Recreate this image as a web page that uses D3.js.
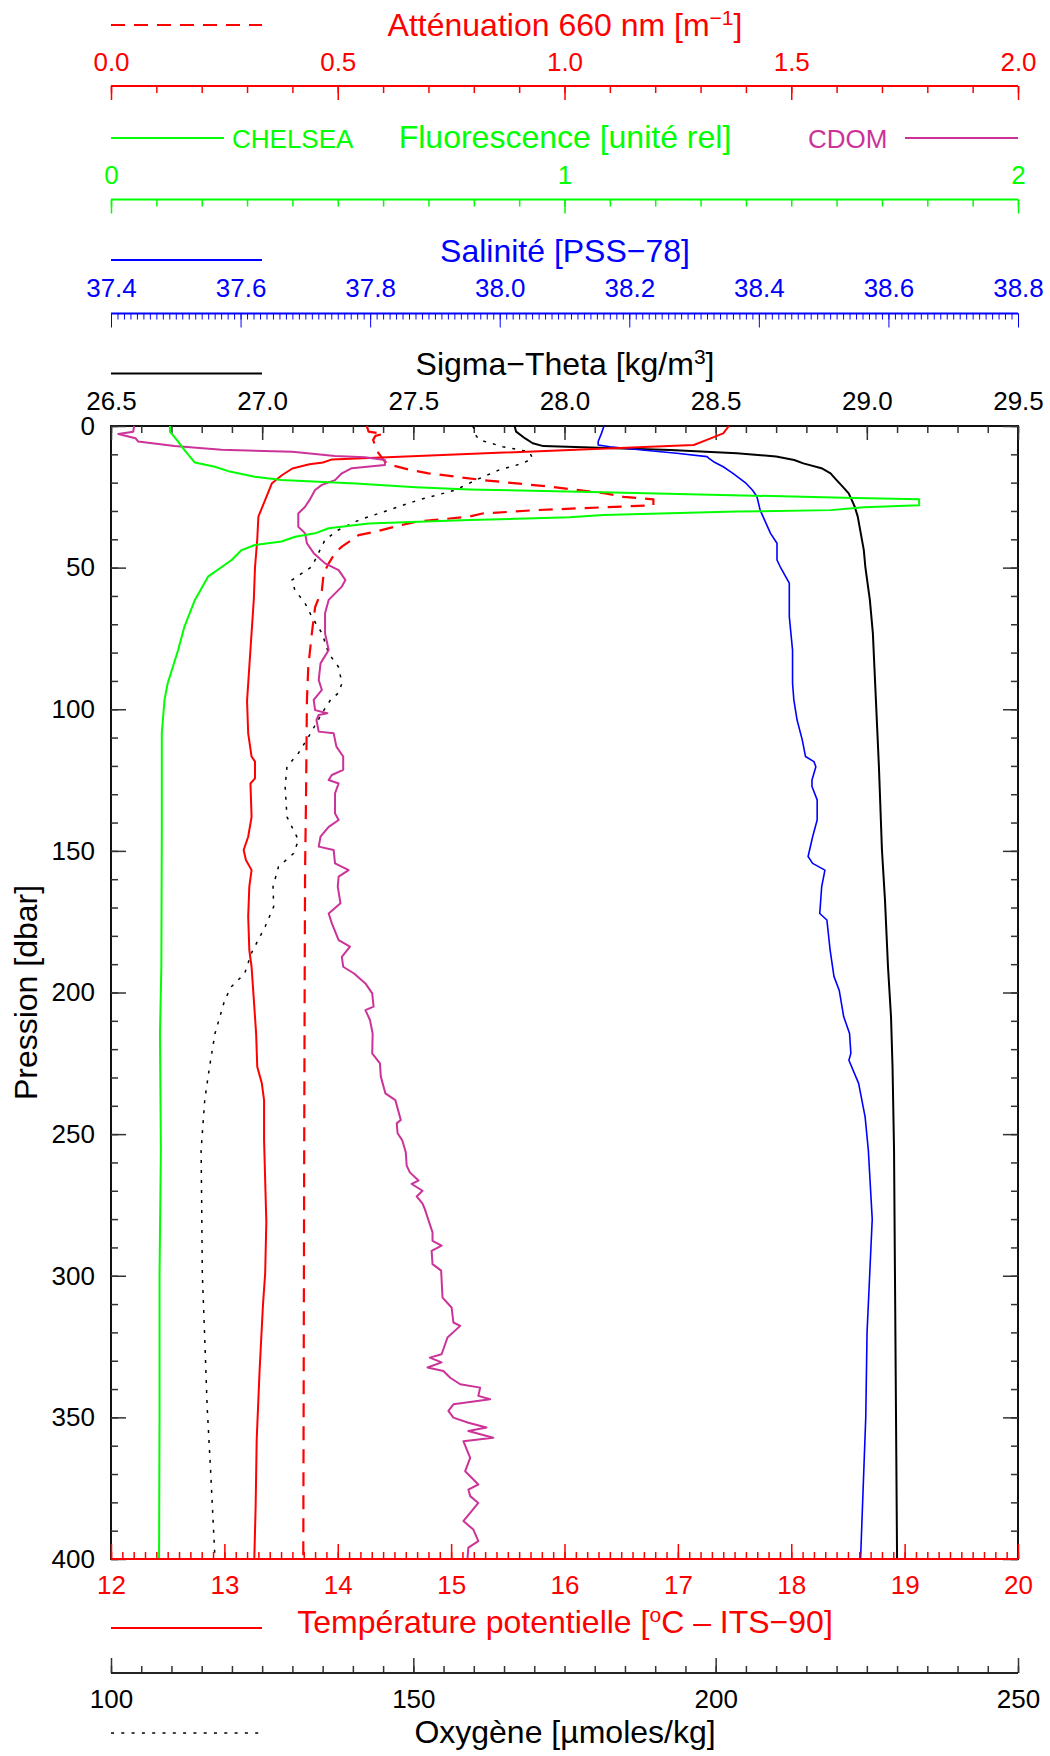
<!DOCTYPE html>
<html>
<head>
<meta charset="utf-8">
<script src="https://cdn.jsdelivr.net/npm/d3@7"></script>
<style>
  body { margin: 0; background: #fff; }
  svg text { font-family: "Liberation Sans", Arial, sans-serif; }
</style>
</head>
<body>
<svg id="chart" width="1050" height="1756"></svg>
<script>
// ─────────────────────────────────────────────────────────────
// 1. profile data  [pressure dbar, value]
// ─────────────────────────────────────────────────────────────
const temperature = [
  [0, 17.45], [2.6, 17.40], [5.0, 17.25], [6.7, 17.14], [11.8, 13.95], [12.9, 13.87],
  [13.5, 13.75], [15.0, 13.60], [17.3, 13.51], [20.2, 13.42], [26.1, 13.36], [32, 13.30],
  [40, 13.29], [50, 13.27], [61, 13.26], [73, 13.24], [85, 13.22], [97, 13.20],
  [108.5, 13.21], [116.7, 13.24], [118.5, 13.27], [124.4, 13.27], [126.2, 13.23], [138, 13.24],
  [145, 13.21], [149.7, 13.17], [153.2, 13.19], [156.8, 13.24], [162.6, 13.22], [173.2, 13.21],
  [185, 13.22], [191, 13.24], [202.7, 13.26], [214.5, 13.28], [226.2, 13.29], [232, 13.33],
  [238, 13.35], [252, 13.35], [281, 13.37], [299, 13.36], [310.6, 13.34], [334, 13.31],
  [358, 13.285], [381, 13.276], [400, 13.264]
];

const attenuation = [
  [0, 0.564], [2.0, 0.568], [2.8, 0.60], [3.5, 0.583], [4.9, 0.578], [8.7, 0.586],
  [11.8, 0.60], [13.5, 0.61], [15.3, 0.655], [16.7, 0.70], [19.1, 0.82], [21.4, 0.967],
  [23.8, 1.09], [25.0, 1.13], [25.9, 1.196], [28.0, 1.196], [28.7, 1.085], [29.7, 0.937],
  [30.9, 0.819], [32, 0.79], [33.8, 0.672], [35.5, 0.627], [37.3, 0.583], [38.5, 0.546],
  [40.2, 0.531], [42.6, 0.509], [44.9, 0.494], [48.5, 0.48], [52, 0.469], [58, 0.465],
  [64, 0.45], [73, 0.443], [85, 0.435], [97, 0.432], [132, 0.43], [156, 0.428],
  [200, 0.427], [256, 0.426], [400, 0.424]
];

const fluorescence = [
  [0, 0.13], [2.0, 0.13], [4.9, 0.145], [8.5, 0.162], [11.4, 0.177], [12.9, 0.185],
  [14.4, 0.229], [16.1, 0.262], [17.9, 0.317], [19.1, 0.376], [20.3, 0.539], [21.6, 0.672],
  [22.4, 0.79], [23.4, 1.085], [25.3, 1.616], [25.9, 1.782], [28.0, 1.782], [28.7, 1.66],
  [29.7, 1.587], [30.2, 1.38], [31.4, 1.085], [32.2, 1.011], [33.2, 0.79], [34.4, 0.568],
  [36.1, 0.48], [37.9, 0.45], [39.1, 0.406], [40.8, 0.376], [42.0, 0.317], [43.8, 0.288],
  [47.3, 0.266], [53.2, 0.214], [61.4, 0.185], [70.8, 0.162], [79.1, 0.148], [90.8, 0.125],
  [96.7, 0.118], [108.5, 0.112], [143.8, 0.112], [190.9, 0.111], [214.5, 0.108], [255.7, 0.11],
  [300, 0.107], [350, 0.107], [400, 0.106]
];

const cdom = [
  [0, 0.051], [2.0, 0.049], [2.8, 0.016], [4.3, 0.054], [5.5, 0.06], [7.1, 0.14],
  [8.4, 0.244], [9.1, 0.40], [10.6, 0.494], [11.0, 0.56], [12, 0.604], [13.8, 0.604],
  [14.9, 0.531], [16.7, 0.509], [19.1, 0.494], [20.8, 0.465], [22.6, 0.45], [26.1, 0.438],
  [28.5, 0.428], [30.9, 0.413], [35.6, 0.413], [37.9, 0.428], [41.4, 0.432], [44.9, 0.447],
  [48.5, 0.472], [50.9, 0.502], [54.4, 0.517], [56.7, 0.509], [61.4, 0.48], [66.1, 0.472],
  [73.2, 0.472], [79.1, 0.48], [83.8, 0.462], [89.7, 0.458], [93.2, 0.465], [96.7, 0.447],
  [100.3, 0.45], [101.4, 0.477], [102, 0.458], [103.8, 0.453], [107.9, 0.458], [108.5, 0.491],
  [113.2, 0.497], [116.7, 0.512], [121.4, 0.512], [123.2, 0.487], [125, 0.48], [126.2, 0.502],
  [129.7, 0.494], [136.8, 0.494], [139.1, 0.502], [141.5, 0.48], [145, 0.462], [148.5, 0.458],
  [149.7, 0.491], [154.4, 0.494], [156.8, 0.524], [159.1, 0.502], [162.6, 0.5], [168.5, 0.506],
  [172.1, 0.48], [175.6, 0.487], [181.5, 0.502], [183.8, 0.527], [187.4, 0.509], [190.9, 0.512],
  [193.3, 0.536], [196.8, 0.561], [200.3, 0.576], [205, 0.579], [206.2, 0.561], [209.7, 0.571],
  [214.5, 0.577], [221.5, 0.576], [225, 0.593], [229.7, 0.595], [235.6, 0.605], [238, 0.627],
  [245, 0.639], [246.2, 0.63], [249.7, 0.632], [252.1, 0.642], [256.4, 0.650], [261.1, 0.652],
  [263.5, 0.659], [266.4, 0.678], [267.6, 0.663], [270, 0.687], [272, 0.674], [274.5, 0.687],
  [276.5, 0.692], [279.4, 0.698], [284.7, 0.709], [287.7, 0.709], [289.4, 0.729], [291.2, 0.707],
  [295.9, 0.709], [298.2, 0.728], [307.7, 0.731], [311.2, 0.751], [316.5, 0.755], [317.7, 0.770],
  [321.8, 0.742], [327.7, 0.729], [328.9, 0.703], [330.6, 0.729], [332.4, 0.698], [333.6, 0.733],
  [336, 0.748], [338.3, 0.770], [339.5, 0.814], [342.4, 0.81], [343.6, 0.836], [345.4, 0.755],
  [347.7, 0.744], [350.1, 0.755], [351.9, 0.788], [353.6, 0.828], [354.8, 0.788], [357.2, 0.843],
  [358.4, 0.777], [364.3, 0.792], [369, 0.781], [373.7, 0.810], [375.5, 0.788], [377.8, 0.792],
  [380.2, 0.810], [383.7, 0.792], [386.6, 0.777], [389.6, 0.799], [393.7, 0.81], [396, 0.788],
  [400, 0.786]
];

const salinity = [
  [0, 38.161], [2.6, 38.157], [5.5, 38.152], [6.7, 38.152], [7.3, 38.17], [8.5, 38.22],
  [9.6, 38.273], [10.8, 38.32], [11.4, 38.323], [12.6, 38.33], [14.4, 38.345], [16.7, 38.36],
  [20.2, 38.38], [22.6, 38.39], [24.9, 38.397], [29.7, 38.402], [37.9, 38.418], [41.4, 38.428],
  [47.3, 38.428], [49.7, 38.433], [55.5, 38.447], [67.3, 38.447], [79.1, 38.452], [90.8, 38.452],
  [96.7, 38.454], [103.8, 38.459], [110.8, 38.467], [116.7, 38.472], [118.5, 38.485], [120.3, 38.488],
  [125, 38.482], [127.3, 38.482], [132, 38.49], [139.1, 38.49], [145, 38.483], [152, 38.476],
  [154.4, 38.483], [156.8, 38.502], [162.6, 38.497], [172.1, 38.494], [174.4, 38.505], [185, 38.51],
  [194.4, 38.516], [199.2, 38.524], [208.6, 38.531], [214.5, 38.54], [221.5, 38.542], [223.9, 38.539],
  [232.1, 38.554], [243.9, 38.564], [255.7, 38.569], [280, 38.575], [300, 38.571], [320, 38.567],
  [350, 38.565], [400, 38.557]
];

const sigmaTheta = [
  [0, 27.835], [2.0, 27.84], [4.4, 27.87], [6.1, 27.895], [7.1, 27.93], [8.5, 28.35],
  [9.6, 28.57], [10.8, 28.70], [12.0, 28.76], [13.2, 28.79], [14.9, 28.85], [16.7, 28.88],
  [19.1, 28.90], [21.4, 28.92], [23.8, 28.94], [26.1, 28.95], [28.5, 28.96], [32, 28.97],
  [37.9, 28.98], [43.8, 28.99], [49.7, 28.995], [61.4, 29.01], [73.2, 29.02], [85, 29.025],
  [96.7, 29.03], [120.3, 29.04], [149.7, 29.05], [167.3, 29.06], [190.9, 29.07], [208.6, 29.08],
  [226.2, 29.085], [255.7, 29.09], [400, 29.10]
];

const oxygen = [
  [0, 159.8], [2.0, 160.3], [3.2, 160.3], [4.9, 160.9], [7.3, 164.8], [9.1, 169.2],
  [11.4, 169.7], [13.2, 168.1], [15.5, 164.2], [19.1, 160.3], [22.6, 157], [26.1, 150.9],
  [29.7, 145.9], [33.2, 141], [36.7, 137.6], [40.2, 135.4], [44.9, 134.3], [49.7, 133.2],
  [54.4, 129.9], [57.9, 130.4], [62.6, 132.1], [67.3, 133.2], [73.2, 134.9], [80.3, 136],
  [85, 137.6], [90.8, 138.2], [94.3, 137.6], [96.7, 136.3], [101.4, 134.9], [109.6, 132.7],
  [115.5, 131], [120.3, 129.1], [127.3, 128.8], [138, 129.1], [146.2, 131], [150.9, 130.2],
  [155.6, 127.7], [162.6, 126.8], [169.7, 126.9], [176.7, 125.5], [186.2, 123.2], [193.3, 122.1],
  [198, 119.9], [202.7, 118.8], [214.5, 117.2], [226.2, 116.3], [238, 115.5], [255.7, 114.9],
  [275, 115.0], [299, 115.1], [322, 115.5], [346, 115.9], [370, 116.5], [400, 117.2]
];

// ─────────────────────────────────────────────────────────────
// 2. tick labels
// ─────────────────────────────────────────────────────────────
const attTicks   = [0, 0.5, 1.0, 1.5, 2.0];
const fluoTicks  = [0, 1, 2];
const salTicks   = [37.4, 37.6, 37.8, 38.0, 38.2, 38.4, 38.6, 38.8];
const sigTicks   = [26.5, 27.0, 27.5, 28.0, 28.5, 29.0, 29.5];
const tempTicks  = [12, 13, 14, 15, 16, 17, 18, 19, 20];
const oxyTicks   = [100, 150, 200, 250];
const presTicks  = [0, 50, 100, 150, 200, 250, 300, 350, 400];

// ─────────────────────────────────────────────────────────────
// 3. scales
// ─────────────────────────────────────────────────────────────
const X0 = 111, X1 = 1018, Y0 = 426, Y1 = 1559;
const RED = '#ff0000', GREEN = '#00ff00', BLUE = '#0000ff', MAG = '#cc3399', TICK = '#333';

const y     = d3.scaleLinear().domain([0, 400]).range([Y0, Y1]);
const xTemp = d3.scaleLinear().domain([12, 20]).range([X0, X1]);
const xAtt  = d3.scaleLinear().domain([0, 2]).range([X0, X1]);
const xFluo = d3.scaleLinear().domain([0, 2]).range([X0, X1]);
const xSal  = d3.scaleLinear().domain([37.4, 38.8]).range([X0, X1]);
const xSig  = d3.scaleLinear().domain([26.5, 29.5]).range([X0, X1]);
const xOxy  = d3.scaleLinear().domain([100, 250]).range([X0, X1]);

const svg = d3.select('#chart');
const step = (a, b, s) => d3.range(0, Math.round((b - a) / s) + 1).map(i => a + i * s);

// ─────────────────────────────────────────────────────────────
// 4. axis helpers
// ─────────────────────────────────────────────────────────────
function hAxis(scale, yPos, o) {
  const g = svg.append('g').attr('transform', `translate(0,${yPos})`).attr('color', o.color);
  const mk = o.down ? d3.axisBottom : d3.axisTop;
  [[o.minor, o.minorLen], [o.major, o.majorLen]].forEach(([vals, len]) => {
    const a = g.append('g').call(mk(scale).tickValues(vals).tickSize(len).tickSizeOuter(0).tickFormat(''));
    a.select('.domain').remove();
    a.selectAll('line').attr('stroke-width', o.tickWidth || 1.5);
  });
  if (o.line) {
    g.append('line').attr('x1', X0).attr('x2', X1)
      .attr('stroke', o.lineColor || o.color).attr('stroke-width', 2);
  }
  // labels, baseline at labelY
  const lab = svg.append('g').attr('transform', `translate(0,${o.labelY})`)
    .call(d3.axisTop(scale).tickValues(o.major).tickSize(0).tickPadding(0).tickFormat(o.fmt));
  lab.select('.domain').remove();
  lab.attr('font-size', 26).attr('font-family', null).attr('color', o.labelColor || o.color);
}

// parts: plain strings, or {sup: '...'} for raised small text
function title(x, yb, color, parts) {
  const t = svg.append('text').attr('x', x).attr('y', yb).attr('text-anchor', 'middle')
    .attr('font-size', 32).attr('fill', color);
  let raised = false;
  parts.forEach(p => {
    if (typeof p === 'string') {
      t.append('tspan').attr('dy', raised ? 11 : null).text(p);
      raised = false;
    } else {
      t.append('tspan').attr('font-size', 21).attr('dy', -11).text(p.sup);
      raised = true;
    }
  });
}

function legendLine(x1, x2, yy, color, dash, w) {
  svg.append('line').attr('x1', x1).attr('x2', x2).attr('y1', yy).attr('y2', yy)
    .attr('stroke', color).attr('stroke-width', w || 2).attr('stroke-dasharray', dash || null);
}

// ─────────────────────────────────────────────────────────────
// 5. top axes
// ─────────────────────────────────────────────────────────────
legendLine(X0, 262, 25, RED, '14,9', 2);
title(565, 36, RED, ['Atténuation 660 nm [m', { sup: '\u22121' }, ']']);
hAxis(xAtt, 86, { down: true, color: RED, line: true, minor: step(0, 2, 0.1), major: attTicks,
  minorLen: 7, majorLen: 14, labelY: 71, fmt: d3.format('.1f') });

legendLine(X0, 224, 138, GREEN);
svg.append('text').attr('x', 232).attr('y', 148).attr('font-size', 26).attr('fill', GREEN).text('CHELSEA');
title(565, 148, GREEN, ['Fluorescence [unité rel]']);
svg.append('text').attr('x', 808).attr('y', 148).attr('font-size', 26).attr('fill', MAG).text('CDOM');
legendLine(905, X1, 138, MAG);
hAxis(xFluo, 199.5, { down: true, color: GREEN, line: true, minor: step(0, 2, 0.1), major: fluoTicks,
  minorLen: 7, majorLen: 14, labelY: 184, fmt: d3.format('d') });

legendLine(X0, 262, 260, BLUE);
title(565, 262, BLUE, ['Salinité [PSS\u221278]']);
hAxis(xSal, 313.5, { down: true, color: BLUE, line: true, minor: step(37.4, 38.8, 0.01), major: salTicks,
  minorLen: 6, majorLen: 14, tickWidth: 1, labelY: 297, fmt: d3.format('.1f') });

legendLine(X0, 262, 373.5, '#000');
title(565, 375, '#000', ['Sigma\u2212Theta [kg/m', { sup: '3' }, ']']);

// ─────────────────────────────────────────────────────────────
// 6. plot frame + axes around it
// ─────────────────────────────────────────────────────────────
svg.append('rect').attr('x', X0).attr('y', Y0).attr('width', X1 - X0).attr('height', Y1 - Y0)
  .attr('fill', 'none').attr('stroke', '#111').attr('stroke-width', 2);

hAxis(xSig, Y0, { down: true, color: TICK, line: false, minor: step(26.5, 29.5, 0.1), major: sigTicks,
  minorLen: 7, majorLen: 14, labelY: 410, labelColor: '#000', fmt: d3.format('.1f') });

// pressure ticks: inside on both sides
[[d3.axisRight, X0], [d3.axisLeft, X1]].forEach(([mk, xx]) => {
  const g = svg.append('g').attr('transform', `translate(${xx},0)`).attr('color', TICK);
  [[step(0, 400, 10), 7], [presTicks, 15]].forEach(([vals, len]) => {
    const a = g.append('g').call(mk(y).tickValues(vals).tickSize(len).tickSizeOuter(0).tickFormat(''));
    a.select('.domain').remove();
    a.selectAll('line').attr('stroke-width', 1.5);
  });
});
const pl = svg.append('g').attr('transform', 'translate(95,0)')
  .call(d3.axisLeft(y).tickValues(presTicks).tickSize(0).tickPadding(0).tickFormat(d3.format('d')));
pl.select('.domain').remove();
pl.attr('font-size', 26).attr('font-family', null).attr('color', '#000');

svg.append('text').attr('transform', `translate(37,${(Y0 + Y1) / 2}) rotate(-90)`)
  .attr('text-anchor', 'middle').attr('font-size', 32).text('Pression [dbar]');

// ─────────────────────────────────────────────────────────────
// 7. profiles
// ─────────────────────────────────────────────────────────────
function profile(data, xs, color, w, dash) {
  svg.append('path').datum(data)
    .attr('fill', 'none').attr('stroke', color).attr('stroke-width', w)
    .attr('stroke-linejoin', 'round')
    .attr('stroke-dasharray', dash || null)
    .attr('d', d3.line().x(d => xs(d[1])).y(d => y(d[0])));
}

profile(oxygen, xOxy, '#000', 1.5, '3,7');
profile(sigmaTheta, xSig, '#000', 2);
profile(salinity, xSal, BLUE, 1.6);
profile(attenuation, xAtt, RED, 2.2, '14,9');
profile(temperature, xTemp, RED, 2);
profile(cdom, xFluo, MAG, 2);
profile(fluorescence, xFluo, GREEN, 2);

// ─────────────────────────────────────────────────────────────
// 8. bottom axes
// ─────────────────────────────────────────────────────────────
hAxis(xTemp, Y1, { down: false, color: RED, line: true, minor: step(12, 20, 0.1), major: tempTicks,
  minorLen: 7, majorLen: 15, labelY: 1594, fmt: d3.format('d') });
legendLine(X0, 262, 1628, RED);
title(565, 1633, RED, ['Température potentielle [', { sup: 'o' }, 'C \u2013 ITS\u221290]']);

hAxis(xOxy, 1673, { down: false, color: TICK, lineColor: '#222', line: true, minor: step(100, 250, 5), major: oxyTicks,
  minorLen: 7, majorLen: 15, labelY: 1708, labelColor: '#000', fmt: d3.format('d') });
legendLine(X0, 259, 1733, '#000', '3,7.3', 1.5);
title(565, 1743, '#000', ['Oxygène [µmoles/kg]']);
</script>
</body>
</html>
